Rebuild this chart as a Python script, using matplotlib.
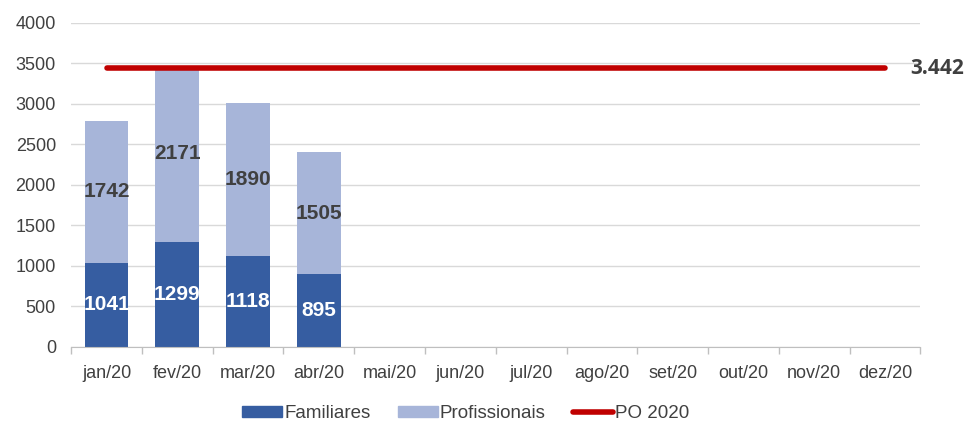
import matplotlib
matplotlib.use("Agg")
import matplotlib.pyplot as plt
import numpy as np
from matplotlib.lines import Line2D
from matplotlib.patches import Patch

plt.rcParams['font.family'] = ['Liberation Sans', 'DejaVu Sans']

months = ["jan/20", "fev/20", "mar/20", "abr/20", "mai/20", "jun/20",
          "jul/20", "ago/20", "set/20", "out/20", "nov/20", "dez/20"]
familiares = [1041, 1299, 1118, 895]
profissionais = [1742, 2171, 1890, 1505]
po_2020 = 3442
po_label = "3.442"

c_fam = "#365DA1"
c_prof = "#A7B5D9"
c_po = "#C00000"

fig = plt.figure(figsize=(9.75, 4.23), dpi=100)
ax = fig.add_axes([0.073, 0.18, 0.871, 0.766])

x = np.arange(len(months))
n = len(familiares)
w = 0.62
ax.bar(x[:n], familiares, width=w, color=c_fam, zorder=2)
ax.bar(x[:n], profissionais, width=w, bottom=familiares, color=c_prof, zorder=2)

for i in range(n):
    ax.text(x[i], familiares[i] / 2, str(familiares[i]), ha='center', va='center',
            color='white', fontsize=15, fontweight='bold', zorder=4)
    ax.text(x[i], familiares[i] + profissionais[i] / 2, str(profissionais[i]),
            ha='center', va='center', color='#404040', fontsize=15,
            fontweight='bold', zorder=4)

ax.plot([x[0], x[-1]], [po_2020, po_2020], color=c_po, lw=4,
        solid_capstyle='round', zorder=3)
ax.annotate(po_label, xy=(x[-1], po_2020), xytext=(18, 0), textcoords='offset points',
            ha='left', va='center', fontsize=15, fontweight='bold', color='#404040',
            family=['Open Sans', 'DejaVu Sans'], annotation_clip=False)

ax.set_xlim(-0.5, len(months) - 0.5)
ax.set_ylim(0, 4000)
ax.set_yticks(np.arange(0, 4001, 500))
ax.set_xticks(x)
ax.set_xticklabels(months)
ax.set_xticks(np.arange(-0.5, len(months), 1), minor=True)
ax.tick_params(axis='x', which='major', length=0, pad=13, labelsize=13, colors='#404040')
ax.tick_params(axis='x', which='minor', length=5, color='#BFBFBF', width=1)
ax.tick_params(axis='y', length=0, pad=11, labelsize=13, colors='#404040')
ax.grid(axis='y', color='#D9D9D9', lw=1, zorder=0)
ax.set_axisbelow(True)
for s in ['top', 'right', 'left']:
    ax.spines[s].set_visible(False)
ax.spines['bottom'].set_color('#BFBFBF')

handles = [Patch(color=c_fam, label='Familiares'),
           Patch(color=c_prof, label='Profissionais'),
           Line2D([0], [0], color=c_po, lw=4, solid_capstyle='round', label='PO 2020')]
fig.legend(handles=handles, loc='center', bbox_to_anchor=(0.4775, 0.022), ncol=3,
           frameon=False, fontsize=13.5, handlelength=2.15, handleheight=0.5,
           handletextpad=0.1, columnspacing=1.45, labelcolor='#404040')

fig.savefig("out.png", dpi=100)
